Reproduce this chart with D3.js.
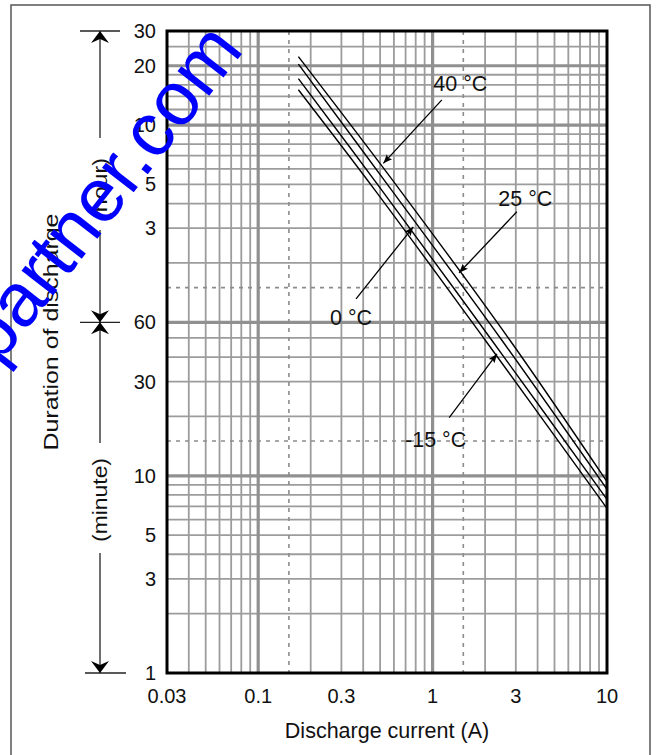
<!DOCTYPE html>
<html>
<head>
<meta charset="utf-8">
<script src="https://d3js.org/d3.v7.min.js"></script>
<style>
  body { margin: 0; background: #fff; }
  svg text { font-family: "Liberation Sans", Arial, sans-serif; fill: #111; }
</style>
</head>
<body>
<svg width="656" height="755"></svg>
<script>
// discharge current (A) / duration (minutes)
var xTicks = [0.03, 0.1, 0.3, 1, 3, 10];
var yTicks = [1, 3, 5, 10, 30, 60, 180, 300, 600, 1200, 1800];
var yTickLabels = ["1", "3", "5", "10", "30", "60", "3", "5", "10", "20", "30"];

var xGrid = [0.04, 0.05, 0.06, 0.07, 0.08, 0.09, 0.2, 0.3, 0.4, 0.5, 0.6, 0.7, 0.8, 0.9,
             2, 3, 4, 5, 6, 7, 8, 9];
var xGridBold = [0.1, 1];
var yGrid = [2, 3, 4, 5, 6, 7, 8, 9, 20, 30, 40, 50, 120, 180, 240, 300, 360, 420, 480, 540,
             720, 840, 960, 1080, 1500];
var yGridBold = [10, 60, 600, 1200];
var xDashed = [0.15, 1.5];
var yDashed = [15, 90];

var series = [
  {name: "40 °C",  points: [[0.17, 1334], [0.65, 281], [2.77, 48.8], [10, 9.33]]},
  {name: "25 °C",  points: [[0.17, 1222], [0.582, 281], [2.49, 48.8], [10, 8.54]]},
  {name: "0 °C",   points: [[0.17, 1032], [0.511, 281], [2.18, 48.8], [10, 7.6]]},
  {name: "-15 °C", points: [[0.17, 907], [0.467, 281], [2.0, 48.8], [10, 6.84]]}
];

// label position and arrow (from -> to), in data units
var notes = [
  {text: "40 °C",  at: [1.01, 897],  from: [1.13, 805], to: [0.522, 384]},
  {text: "25 °C",  at: [2.38, 233],  from: [3.04, 218], to: [1.42, 107]},
  {text: "0 °C",   at: [0.258, 58.2], from: [0.364, 78.8], to: [0.775, 183]},
  {text: "-15 °C", at: [0.695, 14.05], from: [1.245, 19.7], to: [2.34, 41.5]}
];

var svg = d3.select("svg");
var pL = 167, pR = 607, pT = 31, pB = 673;

var x = d3.scaleLog().domain([0.03, 10]).range([pL, pR]);
var y = d3.scaleLog().domain([1, 1800]).range([pB, pT]);

// outer frame
svg.append("rect")
    .attr("x", 11).attr("y", 5).attr("width", 639).attr("height", 760)
    .attr("fill", "none").attr("stroke", "#555").attr("stroke-width", 1.5);

var grid = svg.append("g");
grid.selectAll(".vx").data(xGrid).enter().append("line")
    .attr("x1", x).attr("x2", x).attr("y1", pT).attr("y2", pB)
    .attr("stroke", "#9c9c9c").attr("stroke-width", 1.8);
grid.selectAll(".hy").data(yGrid).enter().append("line")
    .attr("y1", y).attr("y2", y).attr("x1", pL).attr("x2", pR)
    .attr("stroke", "#9c9c9c").attr("stroke-width", 1.8);
grid.selectAll(".vxb").data(xGridBold).enter().append("line")
    .attr("x1", x).attr("x2", x).attr("y1", pT).attr("y2", pB)
    .attr("stroke", "#909090").attr("stroke-width", 3.2);
grid.selectAll(".hyb").data(yGridBold).enter().append("line")
    .attr("y1", y).attr("y2", y).attr("x1", pL).attr("x2", pR)
    .attr("stroke", "#909090").attr("stroke-width", 3.2);
grid.selectAll(".vxd").data(xDashed).enter().append("line")
    .attr("x1", x).attr("x2", x).attr("y1", pT).attr("y2", pB)
    .attr("stroke", "#8c8c8c").attr("stroke-width", 1.6).attr("stroke-dasharray", "4,5");
grid.selectAll(".hyd").data(yDashed).enter().append("line")
    .attr("y1", y).attr("y2", y).attr("x1", pL).attr("x2", pR)
    .attr("stroke", "#8c8c8c").attr("stroke-width", 1.6).attr("stroke-dasharray", "4,5");

var line = d3.line()
    .x(function(d) { return x(d[0]); })
    .y(function(d) { return y(d[1]); })
    .curve(d3.curveCatmullRom);

svg.selectAll(".curve").data(series).enter().append("path")
    .attr("d", function(d) { return line(d.points); })
    .attr("fill", "none").attr("stroke", "#000").attr("stroke-width", 1.4);

// plot border
svg.append("rect")
    .attr("x", pL).attr("y", pT).attr("width", pR - pL).attr("height", pB - pT)
    .attr("fill", "none").attr("stroke", "#000").attr("stroke-width", 3);

// tick labels
svg.selectAll(".xt").data(xTicks).enter().append("text")
    .attr("x", x).attr("y", 703)
    .attr("text-anchor", "middle").attr("font-size", 20)
    .text(function(d) { return d; });
svg.selectAll(".yt").data(yTicks).enter().append("text")
    .attr("x", 156).attr("y", function(d) { return y(d) + 7; })
    .attr("text-anchor", "end").attr("font-size", 20)
    .text(function(d, i) { return yTickLabels[i]; });

svg.append("text")
    .attr("x", (pL + pR) / 2).attr("y", 738)
    .attr("text-anchor", "middle").attr("font-size", 21.5)
    .text("Discharge current (A)");

// curve labels with arrows
svg.append("defs").append("marker")
    .attr("id", "ah").attr("viewBox", "0 0 10 10").attr("refX", 10).attr("refY", 5)
    .attr("markerWidth", 9).attr("markerHeight", 9).attr("markerUnits", "userSpaceOnUse")
    .attr("orient", "auto")
  .append("path").attr("d", "M0,1 L10,5 L0,9 L2,5 Z").attr("fill", "#000");

var note = svg.selectAll(".note").data(notes).enter().append("g");
note.append("line")
    .attr("x1", function(d) { return x(d.from[0]); })
    .attr("y1", function(d) { return y(d.from[1]); })
    .attr("x2", function(d) { return x(d.to[0]); })
    .attr("y2", function(d) { return y(d.to[1]); })
    .attr("stroke", "#000").attr("stroke-width", 1.3)
    .attr("marker-end", "url(#ah)");
note.append("text")
    .attr("x", function(d) { return x(d.at[0]); })
    .attr("y", function(d) { return y(d.at[1]); })
    .attr("font-size", 21.5)
    .text(function(d) { return d.text; });

// left dimension line: hour / minute
var dim = svg.append("g").attr("stroke", "#222").attr("stroke-width", 1.3);
var dx = 100;
dim.append("line").attr("x1", 80).attr("x2", 120).attr("y1", y(1800)).attr("y2", y(1800));
dim.append("line").attr("x1", 80).attr("x2", 120).attr("y1", y(60)).attr("y2", y(60));
dim.append("line").attr("x1", 85).attr("x2", 126).attr("y1", y(1)).attr("y2", y(1));
dim.append("line").attr("x1", dx).attr("x2", dx).attr("y1", y(1800)).attr("y2", 138);
dim.append("line").attr("x1", dx).attr("x2", dx).attr("y1", 230).attr("y2", y(60));
dim.append("line").attr("x1", dx).attr("x2", dx).attr("y1", y(60)).attr("y2", 443);
dim.append("line").attr("x1", dx).attr("x2", dx).attr("y1", 553).attr("y2", y(1));

function head(tipY, dir) {
  return "M" + dx + "," + tipY +
    " L" + (dx - 9) + "," + (tipY + dir * 12) +
    " L" + dx + "," + (tipY + dir * 8) +
    " L" + (dx + 9) + "," + (tipY + dir * 12) + " Z";
}
[[y(1800), 1], [y(60), -1], [y(60), 1], [y(1), -1]].forEach(function(h) {
  svg.append("path").attr("d", head(h[0], h[1])).attr("fill", "#000");
});

function vtext(cx, cy, len, size, t) {
  svg.append("text")
      .attr("transform", "translate(" + cx + "," + cy + ") rotate(-90)")
      .attr("text-anchor", "middle").attr("dy", "0.35em")
      .attr("font-size", size)
      .attr("textLength", len).attr("lengthAdjust", "spacingAndGlyphs")
      .text(t);
}
vtext(51, 332, 237, 21, "Duration of discharge");
vtext(100, 189, 62, 20, "(hour)");
vtext(100, 500, 84, 20, "(minute)");

// watermark
svg.append("text")
    .attr("transform", "translate(245,50) rotate(-52)")
    .attr("text-anchor", "end")
    .attr("font-size", 76)
    .style("fill", "#0000ff")
    .text("partner.com");
</script>
</body>
</html>
